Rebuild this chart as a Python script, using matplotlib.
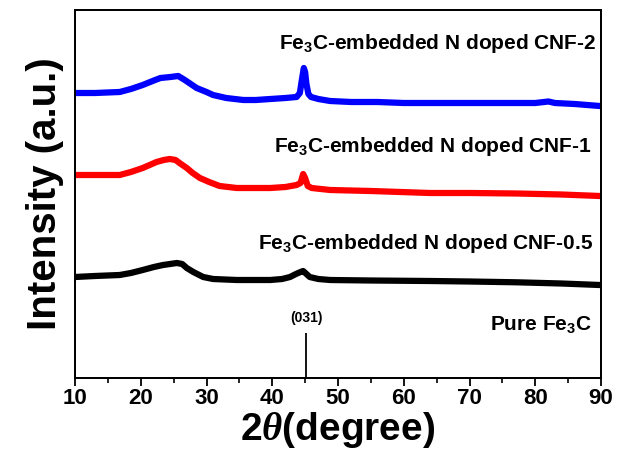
import matplotlib
matplotlib.use("Agg")
import matplotlib.pyplot as plt
from matplotlib.ticker import MultipleLocator
from matplotlib.patches import Rectangle

plt.rcParams['font.family'] = ['Liberation Sans', 'DejaVu Sans']
plt.rcParams['font.weight'] = 'bold'
plt.rcParams['mathtext.fontset'] = 'custom'
plt.rcParams['mathtext.default'] = 'regular'
plt.rcParams['mathtext.it'] = 'Liberation Serif:italic'
plt.rcParams['mathtext.rm'] = 'Liberation Sans:bold'
plt.rcParams['mathtext.bf'] = 'Liberation Sans:bold'

# Data (2theta in degrees, intensity in arbitrary units)
cnf2_x = [10, 13, 16.8, 18.5, 20.3, 22, 23, 24.5, 25.7, 26.7, 27.6, 28.5, 30, 31, 33,
          35.6, 37.5, 39.7, 42, 43.7, 44.2, 44.5, 44.8, 45.0, 45.2, 45.5, 45.9, 47,
          48.8, 52, 56, 60, 64, 68, 72, 77, 80, 82, 83, 86, 89.8]
cnf2_y = [285, 285, 286, 289, 293, 297.5, 300, 301, 302, 298, 294, 290, 286, 283, 280,
          278, 278, 279, 280, 281, 285, 298, 310, 306, 294, 284, 281, 279,
          277, 276, 276, 275, 275, 275, 275, 275, 275, 276.5, 275, 274, 272]

cnf1_x = [10, 13, 16.8, 18.5, 20.3, 22.4, 23.5, 24.4, 25.3, 25.9, 27, 27.9, 29, 30.4,
          32, 34.6, 37, 39.7, 42, 43.7, 44.3, 44.7, 45.0, 45.4, 46, 48.8, 55, 64, 70,
          77.2, 84, 89.8]
cnf1_y = [203, 203, 203, 206, 210, 216, 218, 219, 218, 215, 210, 205, 200, 196,
          192, 190, 190, 190, 191, 193, 195, 204, 200, 192, 190, 188, 187, 185, 185,
          184.5, 183.5, 182]

cnf05_x = [10, 13, 16.8, 18.5, 20.3, 22, 23.4, 25.5, 26.3, 27, 28, 29.5, 31, 34.6,
           37, 39.7, 41.5, 42.7, 43.6, 44.3, 44.7, 45.2, 45.7, 47, 48.8, 55, 64, 70,
           77.2, 84, 89.8]
cnf05_y = [101, 102, 103, 105, 108, 111, 113, 115, 114, 110, 106, 101, 99, 98,
           98, 98, 99, 101, 104, 106, 107, 104, 101, 99, 98, 97.5, 97, 96.5,
           95.7, 94.5, 93]

ref_pos = [45.2]
ref_int = [45]

labels = ['Fe$_3$C-embedded N doped CNF-2', 'Fe$_3$C-embedded N doped CNF-1',
          'Fe$_3$C-embedded N doped CNF-0.5', 'Pure Fe$_3$C']
hkl = '(031)'
xticks = [10, 20, 30, 40, 50, 60, 70, 80, 90]

fig = plt.figure(figsize=(6.27, 4.50), dpi=100)
ax = fig.add_axes([75/627, 1-378/450, (601-75)/627, (378-10)/450])

ax.plot(cnf2_x, cnf2_y, color='#0000ff', lw=4.5, solid_joinstyle='round')
ax.plot(cnf1_x, cnf1_y, color='#ff0000', lw=4.5, solid_joinstyle='round')
ax.plot(cnf05_x, cnf05_y, color='black', lw=4.5, solid_joinstyle='round')
ax.vlines(ref_pos, 0, ref_int, color='black', lw=1.3)

ax.set_xlim(10, 90)
ax.set_ylim(0, 368)

ax.text(0.992, 0.908, labels[0], transform=ax.transAxes, ha='right', va='center',
        fontsize=15, fontweight='bold')
ax.text(0.983, 0.628, labels[1], transform=ax.transAxes, ha='right', va='center',
        fontsize=15, fontweight='bold')
ax.text(0.985, 0.365, labels[2], transform=ax.transAxes, ha='right', va='center',
        fontsize=15, fontweight='bold')
ax.text(0.983, 0.142, labels[3], transform=ax.transAxes, ha='right', va='center',
        fontsize=15, fontweight='bold')
ax.text(ref_pos[0], ref_int[0] + 15, hkl, ha='center', va='center', fontsize=10,
        fontweight='bold')

ax.set_xticks(xticks)
ax.xaxis.set_minor_locator(MultipleLocator(5))
ax.set_yticks([])
ax.tick_params(axis='x', which='major', direction='out', length=6, width=1.3,
               labelsize=16, pad=1)
ax.tick_params(axis='x', which='minor', direction='out', length=3.5, width=1.2)
for lab in ax.get_xticklabels():
    lab.set_fontweight('bold')
for s in ax.spines.values():
    s.set_visible(True)
    s.set_linewidth(1.3)
    s.set_color('black')
ax.add_patch(Rectangle((0, 0), 1, 1, transform=ax.transAxes, fill=False,
                       edgecolor='black', lw=1.3, clip_on=False, zorder=5))

ax.set_xlabel(r'2$\mathit{\theta}$(degree)', fontsize=28, fontweight='bold', labelpad=1)
ax.set_ylabel('Intensity (a.u.)', fontsize=29, fontweight='bold', labelpad=8)

fig.savefig('out.png', dpi=100)
